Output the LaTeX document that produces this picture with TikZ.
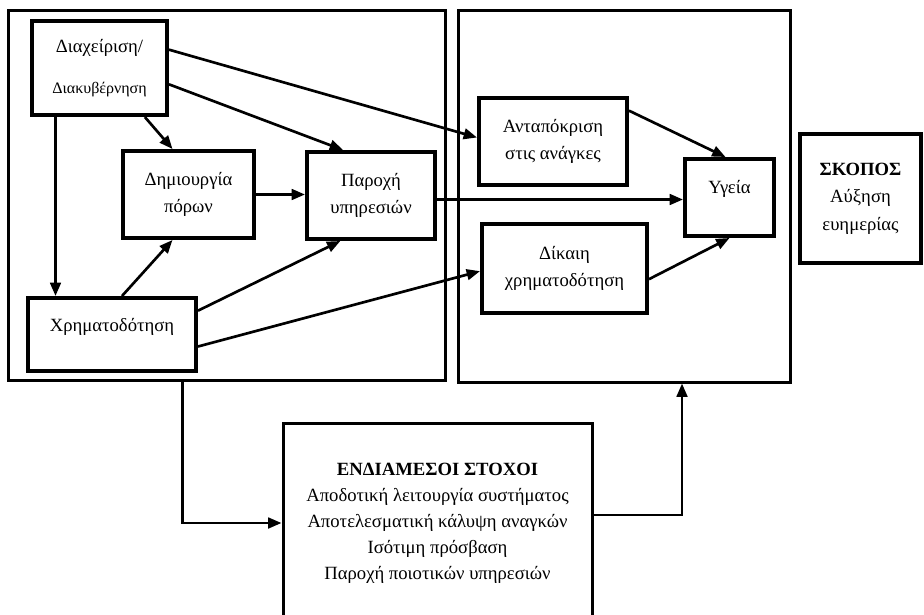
\documentclass[tikz,border=0pt]{standalone}
\usepackage{fontspec}
\setmainfont{Liberation Serif}
\usepackage{tikz}
\usetikzlibrary{arrows.meta}

\begin{document}
\begin{tikzpicture}[x=0.75pt,y=-0.75pt,
  box/.style={draw,line width=3pt,rectangle,align=center,font=\fontsize{14}{20.5}\selectfont},
  frame/.style={draw,line width=2.25pt,rectangle},
  arr/.style={line width=2pt,-{Triangle[length=10pt,width=8pt]}}]
\clip (0,0) rectangle (924,614);
% outer frames
\node[frame,minimum width=327.75pt,minimum height=277.5pt] (lbox) at (226.5,195) {};
\node[frame,minimum width=249pt,minimum height=279pt] (rbox) at (624,196) {};
% left part
\node[box,minimum width=101.25pt,minimum height=70.5pt] (dia) at (99.5,68)
  {Διαχείριση/\\[10pt]{\fontsize{12}{14}\selectfont Διακυβέρνηση}};
\node[box,minimum width=98.25pt,minimum height=65.25pt] (dim) at (188.5,194.5) {Δημιουργία\\πόρων};
\node[box,minimum width=96pt,minimum height=65.25pt] (par) at (371,195.5) {Παροχή\\υπηρεσιών};
\node[box,minimum width=126pt,minimum height=54.75pt] (xrim) at (112,334.5) {Χρηματοδότηση\\[-6pt]\mbox{}};
% right part
\node[box,minimum width=111pt,minimum height=65.25pt] (ant) at (553,141.5) {Ανταπόκριση\\στις ανάγκες};
\node[box,minimum width=66.75pt,minimum height=57.75pt] (yg) at (729.5,197.5) {Υγεία\\[-4pt]\mbox{}};
\node[box,minimum width=123.75pt,minimum height=66.75pt] (dik) at (564.5,268.5) {Δίκαιη\\χρηματοδότηση};
\node[box,minimum width=90.75pt,minimum height=96.75pt] (skopos) at (860.5,198.5)
  {\textbf{ΣΚΟΠΟΣ}\\Αύξηση\\ευημερίας};
% intermediate goals
\node[box,line width=2.25pt,minimum width=231.75pt,minimum height=150pt,
  font=\fontsize{14}{19.5}\selectfont] (goal) at (437.5,523)
  {\textbf{ΕΝΔΙΑΜΕΣΟΙ ΣΤΟΧΟΙ}\\Αποδοτική λειτουργία συστήματος\\Αποτελεσματική κάλυψη αναγκών\\Ισότιμη πρόσβαση\\Παροχή ποιοτικών υπηρεσιών};
% connectors
\draw[arr] ([yshift=-23pt]dia.north east) -- ([yshift=3pt]ant.west);
\draw[arr] ([yshift=-49pt]dia.north east) -- ([xshift=-21pt]par.north);
\draw[arr] ([xshift=34pt]dia.south) -- ([xshift=-12pt]dim.north);
\coordinate (d4) at ([xshift=-33pt]dia.south);
\draw[arr] (d4) -- (d4 |- xrim.north);
\draw[arr] (dim.east) -- (dim.east -| par.west);
\draw[arr] ([xshift=7.5pt]xrim.north) -- ([xshift=-12pt]dim.south);
\draw[arr] ([yshift=-11pt]xrim.north east) -- ([xshift=-23pt]par.south);
\draw[arr] ([yshift=-9pt]xrim.east) -- ([yshift=-2pt]dik.west);
\coordinate (p9) at ([yshift=-3pt]par.east);
\draw[arr] (p9) -- (p9 -| yg.west);
\draw[arr] ([yshift=-11pt]ant.north east) -- ([xshift=-3pt]yg.north);
\draw[arr] ([yshift=-8pt]dik.east) -- (yg.south);
\draw[arr] ([xshift=-33pt]lbox.south) |- (goal.west);
\draw[arr] ([yshift=6pt]goal.east) -| ([xshift=43.5pt]rbox.south);
\end{tikzpicture}
\end{document}
